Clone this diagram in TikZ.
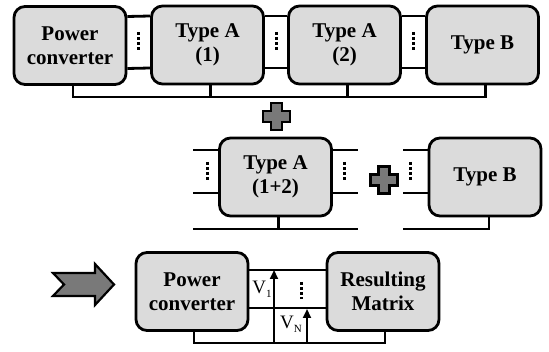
\documentclass[tikz,border=0pt]{standalone}
\usepackage{fontspec}
\setmainfont{Liberation Serif}[BoldFont={Liberation Serif Bold}]
\usetikzlibrary{arrows.meta}

\tikzset{
  block/.style={draw, line width=2.8pt, rounded corners=11pt, fill=gray!28,
    minimum width=112pt, minimum height=78pt, inner sep=0pt, align=center,
    font=\rmfamily\bfseries\fontsize{21}{24}\selectfont},
  wire/.style={line width=2.8pt},
  gaps/.style={line width=3pt, dash pattern=on 3pt off 2pt},
  volt/.style={line width=2.2pt, -{Triangle[length=9pt,width=8pt]}},
  vlabel/.style={inner sep=0pt, font=\rmfamily\fontsize{19}{19}\selectfont},
  plusmark/.pic={
    \draw[line width=2.2pt, fill=gray!95!black] (-5.5,-13.5) -- (5.5,-13.5) -- (5.5,-5.5)
      -- (13.5,-5.5) -- (13.5,5.5) -- (5.5,5.5) -- (5.5,13.5) -- (-5.5,13.5)
      -- (-5.5,5.5) -- (-13.5,5.5) -- (-13.5,-5.5) -- (-5.5,-5.5) -- cycle;
  }
}
\newcommand{\sub}[1]{\raisebox{-4pt}{\fontsize{11}{11}\selectfont #1}}

\begin{document}
\begin{tikzpicture}[x=1pt,y=-1pt]
    \useasboundingbox (0,0) rectangle (549,352);

    % full chain
    \node[block] (pc1) at (70,45.5) {Power\\converter};
    \node[block] (ta1) at (207.5,45) {Type A\\(1)};
    \node[block] (ta2) at (344.5,45) {Type A\\(2)};
    \node[block] (tb1) at (482.5,45) {Type B};

    \foreach \a/\b in {pc1/ta1, ta1/ta2, ta2/tb1} {
        \draw[wire] ([yshift=29pt]\a.east) -- ([yshift=29pt]\b.west);
        \draw[wire] ([yshift=-23pt]\a.east) -- ([yshift=-23pt]\b.west);
        \path (\a.east) -- (\b.west) coordinate[midway] (m);
        \draw[gaps] ([yshift=13pt]m) -- ([yshift=-5pt]m);
    }

    \coordinate (bus1) at (0,97);
    \foreach \n in {pc1, ta1, ta2, tb1}
        \coordinate (\n tap) at ([xshift=3pt]\n.south);
    \draw[wire] (pc1tap) |- (tb1tap |- bus1) -- (tb1tap);
    \draw[wire] (ta1tap) -- (ta1tap |- bus1);
    \draw[wire] (ta2tap) -- (ta2tap |- bus1);

    \pic at (276.5,116.5) {plusmark};

    % split into parts
    \node[block] (ta12) at (275.5,177) {Type A\\(1+2)};
    \node[block] (tb2) at (485,177) {Type B};

    \coordinate (al1) at (193,150);
    \coordinate (al2) at (193,193);
    \coordinate (ar1) at (358,150);
    \coordinate (ar2) at (358,193);
    \coordinate (abl) at (193,229);
    \coordinate (abr) at (358,229);
    \draw[wire] (al1) -- (al1 -| ta12.west);
    \draw[wire] (al2) -- (al2 -| ta12.west);
    \draw[wire] (ar1 -| ta12.east) -- (ar1);
    \draw[wire] (ar2 -| ta12.east) -- (ar2);
    \draw[wire] (abl) -- (abr);
    \draw[wire] ([xshift=3pt]ta12.south) -- ([xshift=3pt]ta12.south |- abl);
    \draw[gaps] (207,162) -- (207,180);
    \draw[gaps] (344,162) -- (344,180);

    \pic at (384,180) {plusmark};

    \coordinate (bl1) at (403,150);
    \coordinate (bl2) at (403,193);
    \coordinate (bbl) at (403,229);
    \draw[wire] (bl1) -- (bl1 -| tb2.west);
    \draw[wire] (bl2) -- (bl2 -| tb2.west);
    \draw[wire] (bbl) -| ([xshift=4pt]tb2.south);
    \draw[gaps] (410,162) -- (410,180);

    % result
    \draw[line width=2.2pt, fill=gray!95!black] (53,273) -- (95,273) -- (95,264) -- (114,284.5)
        -- (95,305) -- (95,296) -- (53,296) -- (64,284.5) -- cycle;

    \node[block] (pc2) at (192,291.5) {Power\\converter};
    \node[block] (rm) at (383,291.5) {Resulting\\Matrix};

    \draw[wire] ([yshift=21.5pt]pc2.east) -- ([yshift=21.5pt]rm.west);
    \draw[wire] ([yshift=-16.5pt]pc2.east) -- ([yshift=-16.5pt]rm.west);
    \coordinate (bus3) at (0,343);
    \coordinate (pc2tap) at ([xshift=2pt]pc2.south);
    \coordinate (rmtap) at ([xshift=2pt]rm.south);
    \draw[wire] (pc2tap) |- (rmtap |- bus3) -- (rmtap);
    \draw[gaps] (301,282) -- (301,299);

    \draw[volt] (274,342) -- (274,270);
    \draw[volt] (307,342) -- (307,309);
    \node[vlabel] (v1) at (262,289) {V\sub{1}};
    \node[vlabel] (vn) at (291,324) {V\sub{N}};
\end{tikzpicture}
\end{document}
